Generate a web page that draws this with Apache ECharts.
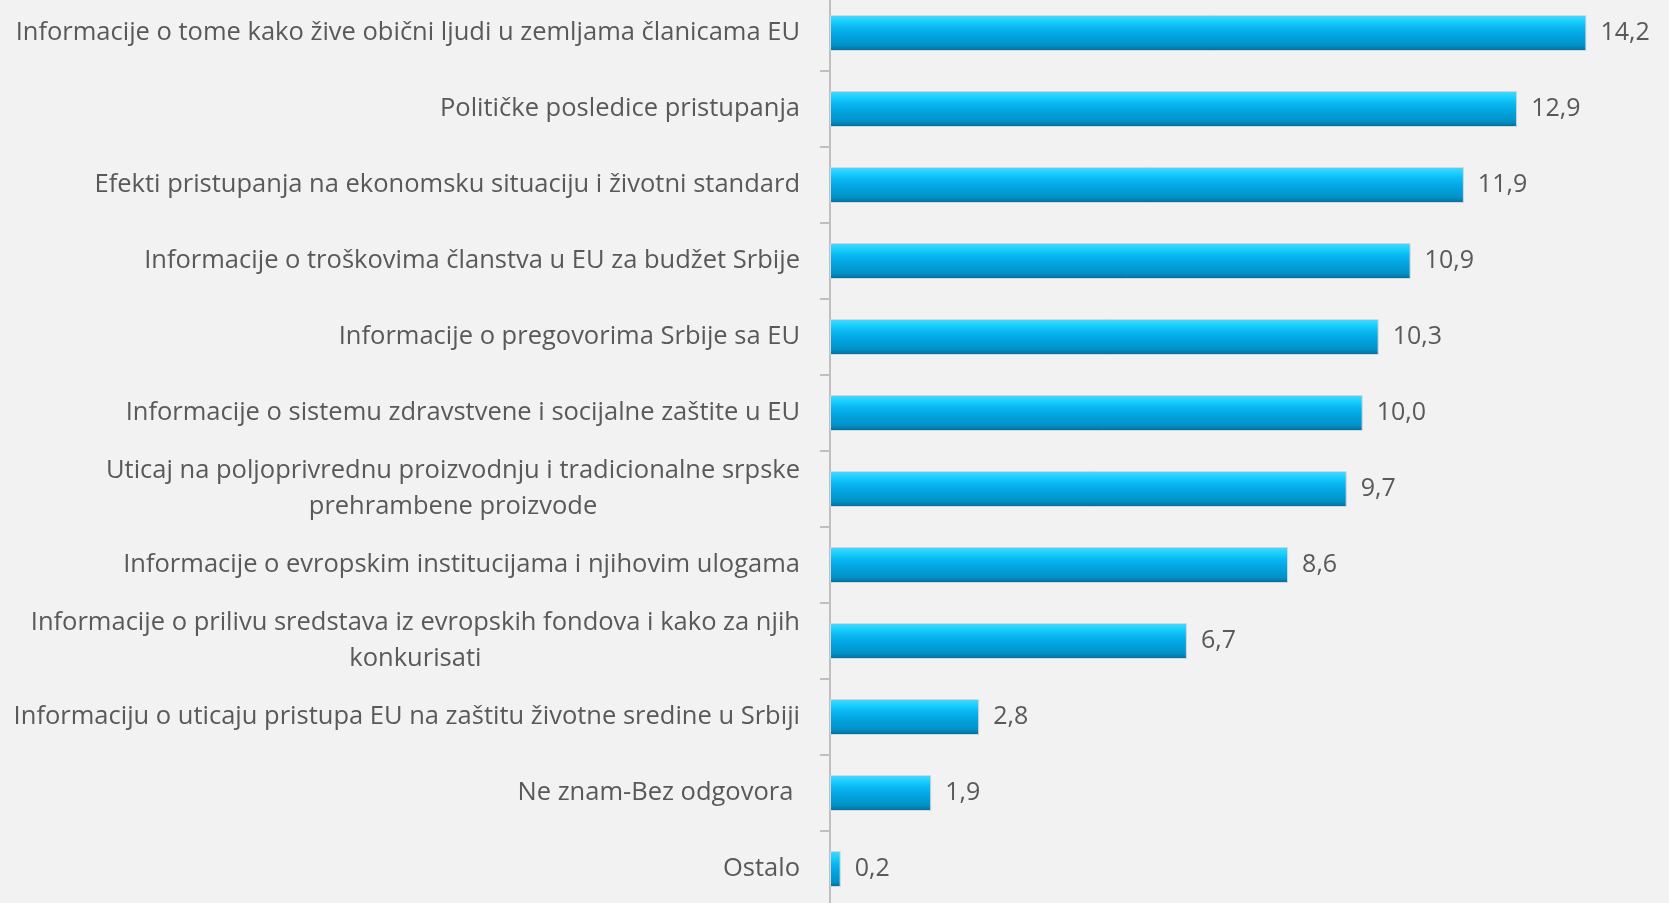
<!DOCTYPE html>
<html>
<head>
<meta charset="utf-8">
<script src="https://cdn.jsdelivr.net/npm/echarts@6/dist/echarts.min.js"></script>
<style>
  html, body { margin: 0; padding: 0; background: #f2f2f2; }
  #main { width: 1669px; height: 903px; }
</style>
</head>
<body>
<div id="main"></div>
<script>
// podaci, redom odozgo na dole
var categories = [
  "Informacije o tome kako žive obični ljudi u zemljama članicama EU",
  "Političke posledice pristupanja",
  "Efekti pristupanja na ekonomsku situaciju i životni standard",
  "Informacije o troškovima članstva u EU za budžet Srbije",
  "Informacije o pregovorima Srbije sa EU",
  "Informacije o sistemu zdravstvene i socijalne zaštite u EU",
  "Uticaj na poljoprivrednu proizvodnju i tradicionalne srpske\nprehrambene proizvode",
  "Informacije o evropskim institucijama i njihovim ulogama",
  "Informacije o prilivu sredstava iz evropskih fondova i kako za njih\nkonkurisati",
  "Informaciju o uticaju pristupa EU na zaštitu životne sredine u Srbiji",
  "Ne znam-Bez odgovora ",
  "Ostalo"
];
var values = [14.2, 12.9, 11.9, 10.9, 10.3, 10.0, 9.7, 8.6, 6.7, 2.8, 1.9, 0.2];

var chart = echarts.init(document.getElementById("main"));

var option = {
  backgroundColor: "#f2f2f2",
  animation: false,
  grid: {
    left: 830,
    top: -5,
    height: 912,
    right: 40,
    outerBoundsMode: "none"
  },
  xAxis: {
    type: "value",
    min: 0,
    max: 15,
    show: false
  },
  yAxis: {
    type: "category",
    inverse: true,
    data: categories,
    axisLine: { lineStyle: { color: "#bfbfbf", width: 2 } },
    axisTick: { show: true, length: 10, lineStyle: { color: "#bfbfbf", width: 2 } },
    axisLabel: {
      margin: 30,
      color: "#595959",
      fontFamily: "Open Sans",
      fontSize: 25.5,
      lineHeight: 36,
      formatter: function (v) {
        // svaki red centriran unutar bloka
        return v.split("\n").map(function (s) { return "{c|" + s + "}"; }).join("\n");
      },
      rich: {
        c: { align: "center", color: "#595959", fontFamily: "Open Sans", fontSize: 25.5, lineHeight: 36 }
      }
    }
  },
  series: [
    {
      type: "bar",
      data: values,
      barWidth: 36,
      itemStyle: {
        color: {
          type: "linear",
          x: 0, y: 0, x2: 0, y2: 1,
          colorStops: [
            { offset: 0, color: "#4fd6f8" },
            { offset: 0.15, color: "#1ed2ff" },
            { offset: 0.3, color: "#0dbdf4" },
            { offset: 0.5, color: "#03a9e6" },
            { offset: 0.85, color: "#0290c8" },
            { offset: 1, color: "#046a90" }
          ]
        },
        borderColor: "#cfd8dc",
        borderWidth: 1
      },
      label: {
        show: true,
        position: "right",
        distance: 14,
        color: "#595959",
        fontFamily: "Open Sans",
        fontSize: 25,
        formatter: function (p) { return p.value.toFixed(1).replace(".", ","); }
      }
    }
  ]
};

chart.setOption(option);
</script>
</body>
</html>
